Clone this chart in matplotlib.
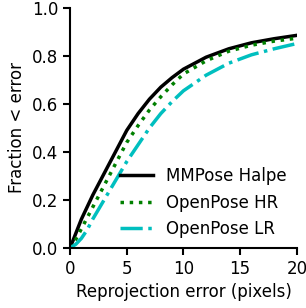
import matplotlib
matplotlib.use("Agg")
import matplotlib.pyplot as plt

# reprojection error thresholds (pixels)
err = [0, 0.5, 1, 1.5, 2, 3, 4, 5, 6, 7, 8, 9, 10, 12, 14, 16, 18, 20]

# fraction of keypoints below each threshold
mmpose_halpe = [0.0, 0.06, 0.12, 0.17, 0.22, 0.31, 0.40, 0.49, 0.56, 0.62, 0.67,
                0.71, 0.745, 0.795, 0.83, 0.855, 0.872, 0.886]
openpose_hr = [0.0, 0.035, 0.08, 0.125, 0.17, 0.26, 0.35, 0.44, 0.51, 0.575, 0.63,
               0.68, 0.725, 0.78, 0.82, 0.845, 0.862, 0.874]
openpose_lr = [0.0, 0.015, 0.04, 0.075, 0.12, 0.20, 0.28, 0.36, 0.43, 0.50, 0.56,
               0.61, 0.655, 0.72, 0.77, 0.805, 0.83, 0.852]

fig = plt.figure(figsize=(3.06, 3.08), dpi=100)
ax = fig.add_axes([0.229, 0.195, 0.741, 0.779])

ax.plot(err, mmpose_halpe, color="black", lw=2.5, ls="-", label="MMPose Halpe")
ax.plot(err, openpose_hr, color="green", lw=2.5, ls=":", label="OpenPose HR")
ax.plot(err, openpose_lr, color="c", lw=2.5, ls="-.", label="OpenPose LR")

ax.set_xlim(0, 20)
ax.set_ylim(0, 1.0)
ax.set_xticks([0, 5, 10, 15, 20])
ax.set_yticks([0.0, 0.2, 0.4, 0.6, 0.8, 1.0])
ax.set_xlabel("Reprojection error (pixels)", fontsize=12)
ax.set_ylabel("Fraction < error", fontsize=12)
ax.tick_params(labelsize=12, width=1.5, length=5)
for side in ("top", "right"):
    ax.spines[side].set_visible(False)
for side in ("left", "bottom"):
    ax.spines[side].set_linewidth(1.5)

ax.legend(loc="lower right", frameon=False, fontsize=12, handlelength=2.0,
          borderaxespad=0.2)

fig.savefig("out.png", dpi=100)
